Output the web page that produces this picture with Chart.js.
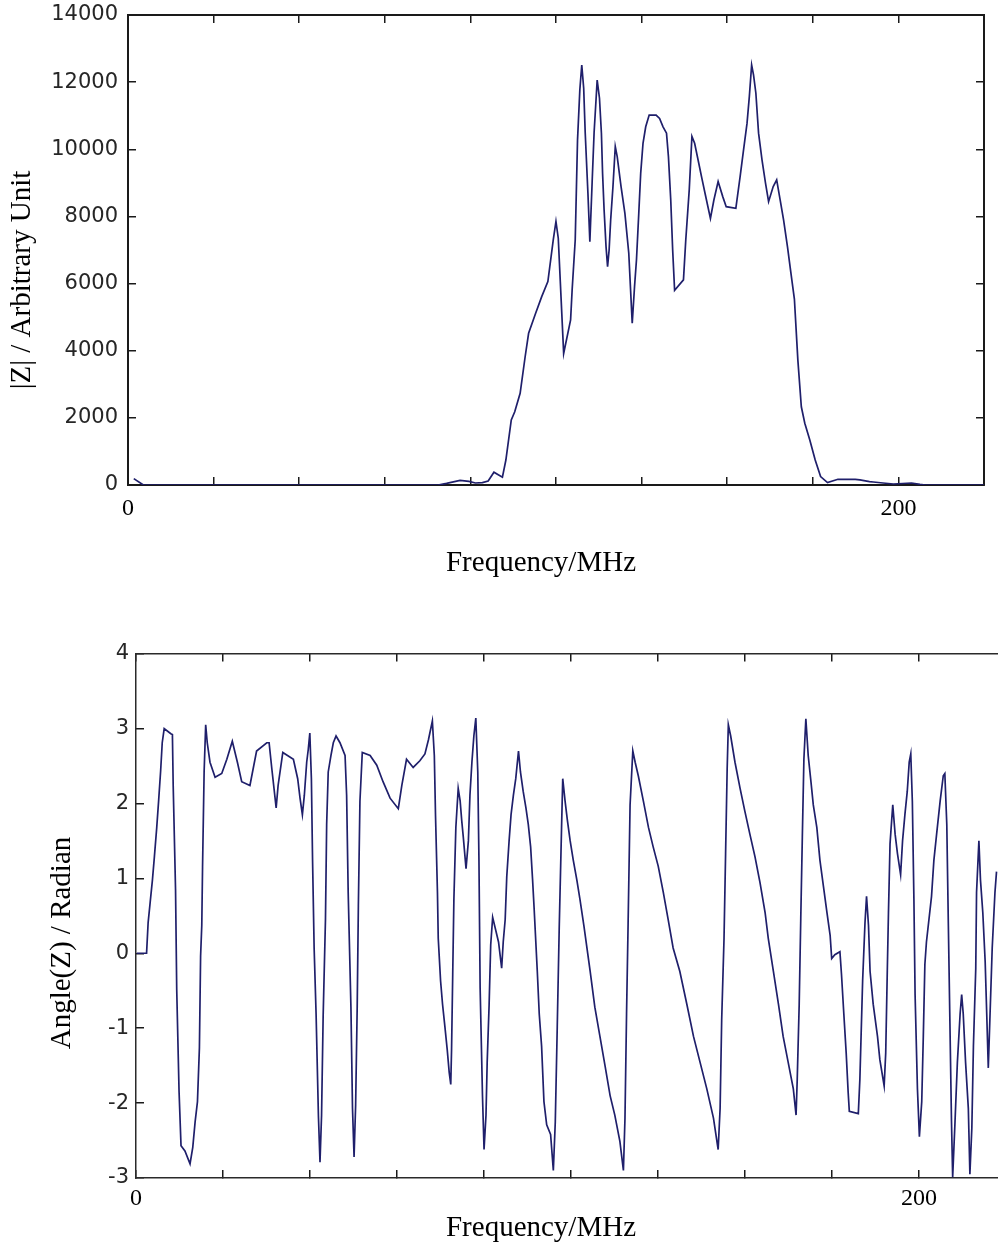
<!DOCTYPE html>
<html><head><meta charset="utf-8">
<script src="https://cdn.jsdelivr.net/npm/chart.js@4.4.1/dist/chart.umd.min.js"></script>
<style>
html,body{margin:0;padding:0;background:#fff;overflow:hidden;width:998px;height:1243px;position:relative}
canvas{position:absolute;left:0}
#c1{top:-40px}
#c2{top:626px}
</style></head><body>
<canvas id="c1" width="1082" height="640"></canvas>
<canvas id="c2" width="1082" height="634"></canvas>
<script>
// ---- data ----
const magFreq = [1.5,4.0,80.5,82.7,86.2,88.5,90.2,92.0,93.5,95.0,97.2,98.1,99.5,100.4,101.8,103.1,104.0,105.8,107.4,109.0,110.4,111.1,111.7,113.1,114.9,115.3,116.1,116.7,117.3,117.8,118.3,118.7,119.4,119.9,120.5,121.0,121.5,121.8,122.4,122.9,123.2,123.6,124.1,124.5,124.9,125.3,125.9,126.5,127.0,128.0,129.0,130.0,130.9,131.5,132.0,132.6,133.1,133.7,134.4,135.3,137.1,138.0,138.9,139.8,140.3,140.9,141.4,141.9,144.2,144.8,145.7,146.4,147.1,148.0,148.9,149.8,151.2,152.1,153.2,154.4,155.3,157.8,158.9,159.8,160.7,161.3,161.9,162.4,163.0,163.7,164.6,165.5,166.3,167.5,168.4,169.3,170.2,171.2,172.1,173.0,173.9,174.8,175.7,177.0,178.4,179.8,181.6,184.3,188.8,190.0,192.5,193.5,196.0,198.7,203.4,205.6,207.0,222.2];
const magValues = [190,0,0,50,140,110,60,70,120,380,230,745,1940,2180,2730,3820,4520,5110,5610,6060,7300,7850,7350,3920,4920,5810,7300,10280,11770,12510,11820,10480,8690,7250,9040,10490,11470,12060,11520,10480,9290,8190,7100,6500,7000,7890,8890,10080,9780,8890,8090,6910,4820,5910,6700,8090,9290,10180,10670,11020,11020,10920,10670,10480,9780,8490,7000,5800,6110,7300,8790,10380,10180,9680,9180,8690,7940,8490,9040,8590,8290,8240,9180,9980,10770,11570,12510,12210,11670,10480,9680,8990,8440,8890,9090,8490,7890,7100,6310,5540,3720,2330,1840,1340,745,250,70,170,170,150,100,90,60,30,60,20,0,0];

const angFreq = [0.2,2.7,3.1,3.6,4.2,4.7,5.3,5.8,6.3,6.7,7.2,8.9,9.3,9.5,10.1,10.4,11.0,11.5,12.5,13.8,14.5,15.1,15.7,16.2,16.5,16.8,17.0,17.4,17.8,18.2,18.9,20.2,21.9,23.2,24.6,25.9,27.0,29.1,30.8,33.4,34.0,34.7,35.8,36.3,37.5,38.7,40.2,41.3,41.9,42.5,43.0,43.6,44.0,44.4,44.8,45.1,45.5,46.0,46.6,47.0,47.4,47.8,48.4,48.7,49.1,49.8,50.4,51.1,52.1,53.4,53.8,54.2,54.9,55.3,55.7,56.1,56.5,56.8,57.2,57.8,59.8,61.5,63.1,64.9,67.0,67.9,69.1,70.8,72.5,73.8,74.7,75.7,76.2,76.5,77.0,77.2,77.8,78.3,78.9,79.5,80.0,80.4,80.6,80.9,81.2,81.7,82.3,82.8,83.2,83.6,84.3,84.9,85.3,85.8,86.3,86.8,87.3,87.6,87.9,88.5,88.9,89.4,89.7,90.2,90.6,91.1,92.6,93.4,93.8,94.3,94.7,95.3,95.8,96.4,97.0,97.7,98.2,98.9,99.6,100.2,100.8,101.3,101.7,102.5,103.0,103.6,104.2,104.9,105.9,106.6,107.1,107.6,108.1,108.7,109.0,109.6,110.2,110.9,111.7,112.6,113.4,114.4,116.0,117.2,118.5,119.8,121.1,122.3,123.6,124.5,124.9,125.3,125.7,126.2,126.9,127.5,128.3,129.6,130.9,132.1,133.4,134.7,135.9,137.2,138.9,140.7,142.4,144.1,145.8,147.5,148.7,149.2,149.6,150.2,150.6,151.0,151.3,151.9,153.0,154.3,155.5,156.8,158.1,159.4,160.7,161.5,162.8,164.1,165.3,166.6,167.9,168.6,168.9,169.4,169.8,170.2,170.6,171.1,171.7,172.4,173.0,173.9,174.7,175.6,176.5,177.3,177.7,178.5,179.8,180.2,180.8,181.4,181.9,182.2,184.5,184.9,185.6,186.2,186.6,187.1,187.5,188.3,189.4,190.0,191.1,191.5,191.9,192.2,192.6,193.3,193.9,194.5,195.3,195.8,196.4,197.0,197.5,197.9,198.3,198.7,199.0,199.6,200.1,200.7,201.1,201.5,201.9,203.2,203.8,204.5,205.4,206.2,206.6,207.1,207.5,207.9,208.3,208.6,209.2,209.8,210.5,210.9,211.3,211.9,212.6,213.0,213.5,213.9,214.5,214.7,215.3,215.7,216.3,216.9,217.3,217.7,218.1,218.7,219.4,219.8];
const angValues = [0,0,0.41,0.67,0.98,1.29,1.68,2.05,2.44,2.81,3.0,2.93,2.92,2.24,0.85,-0.48,-1.85,-2.57,-2.64,-2.81,-2.59,-2.25,-1.98,-1.26,-0.04,0.37,1.15,2.42,3.05,2.81,2.55,2.35,2.40,2.59,2.83,2.55,2.29,2.24,2.70,2.81,2.81,2.46,1.94,2.24,2.68,2.64,2.59,2.33,2.07,1.85,2.11,2.55,2.72,2.94,2.33,1.24,0.07,-0.81,-2.18,-2.79,-2.16,-0.85,0.46,1.72,2.42,2.64,2.81,2.90,2.81,2.64,2.11,0.81,-0.72,-2.07,-2.72,-2.03,-0.72,0.63,2.03,2.68,2.64,2.51,2.29,2.07,1.93,2.24,2.59,2.48,2.57,2.66,2.85,3.10,2.64,1.85,0.81,0.2,-0.37,-0.68,-0.98,-1.29,-1.59,-1.75,-1.29,-0.28,0.72,1.68,2.20,2.03,1.77,1.55,1.13,1.50,2.11,2.55,2.90,3.14,2.42,1.24,-0.46,-1.90,-2.62,-2.16,-1.46,-0.68,0.11,0.48,0.15,-0.20,0.15,0.45,1.02,1.50,1.85,2.11,2.33,2.70,2.42,2.16,1.94,1.72,1.42,0.98,0.59,-0.24,-0.81,-1.24,-1.98,-2.29,-2.42,-2.90,-2.25,-0.98,0.33,1.68,2.33,2.03,1.77,1.50,1.24,0.98,0.72,0.37,-0.24,-0.72,-1.11,-1.50,-1.90,-2.16,-2.51,-2.90,-2.20,-0.81,0.40,1.98,2.70,2.55,2.37,2.03,1.68,1.42,1.16,0.81,0.46,0.07,-0.24,-0.68,-1.11,-1.46,-1.81,-2.20,-2.62,-2.07,-0.89,0.20,1.33,2.46,3.05,2.90,2.55,2.20,1.90,1.59,1.29,0.94,0.54,0.20,-0.24,-0.68,-1.11,-1.46,-1.81,-2.16,-1.68,-0.68,0.46,1.55,2.59,3.13,2.64,2.29,1.98,1.68,1.24,0.89,0.54,0.24,-0.07,-0.02,0.02,-0.28,-0.81,-1.33,-1.85,-2.11,-2.14,-1.68,-0.37,0.40,0.76,0.37,-0.24,-0.68,-1.11,-1.42,-1.77,-1.33,-0.24,0.54,1.46,1.98,1.59,1.33,1.05,1.50,1.85,2.16,2.55,2.66,2.03,0.72,-0.55,-1.81,-2.45,-1.98,-1.11,-0.15,0.15,0.76,1.24,1.59,2.03,2.37,2.40,1.72,0.37,-0.94,-2.25,-2.99,-2.25,-1.46,-0.81,-0.55,-0.81,-1.46,-2.07,-2.95,-2.33,-1.24,-0.20,0.81,1.50,0.98,0.54,-0.11,-0.81,-1.53,-0.89,0.07,0.81,1.09];

// axis ranges / ticks / labels
const xMax = 2000 / 9;
const xTickStep = 200 / 9;
const xLabelValues = [0, 200];
const xLabelTexts = ['0', '200'];
const magRange = [0, 14000];
const magTickStep = 2000;
const angRange = [-3, 4];
const angTickStep = 1;
const magTitle = '|Z| / Arbitrary Unit';
const angTitle = 'Angle(Z) / Radian';
const xTitle = 'Frequency/MHz';

const xTickValues = [];
for (let i = 0; i <= 10; i++) xTickValues.push(i * xTickStep);

function buildXTicks(axis) { axis.ticks = xTickValues.map(v => ({ value: v })); }
function xLabel(v) {
  const i = xLabelValues.findIndex(l => Math.abs(l - v) < 0.01);
  return i >= 0 ? xLabelTexts[i] : '';
}

function makeChart(id, L) {
  const frame = { display: true, color: L.frameColor, width: L.frameWidth };
  const grid = { drawOnChartArea: false, drawTicks: true, tickLength: -8, color: '#1a1a1a', lineWidth: 1.5 };
  const serif = (s) => ({ family: 'Liberation Serif', size: s, weight: 'normal' });
  new Chart(document.getElementById(id), {
    type: 'line',
    data: {
      datasets: [{
        data: L.xs.map((x, i) => ({ x: x, y: L.ys[i] })),
        borderColor: '#1f1f6b',
        borderWidth: 1.7,
        pointRadius: 0,
        tension: 0,
        fill: false
      }]
    },
    options: {
      responsive: false,
      animation: false,
      devicePixelRatio: 1,
      layout: { padding: 0 },
      plugins: {
        legend: { display: false },
        tooltip: { enabled: false },
        title: { display: true, text: L.yTitle, position: 'left', color: '#000', font: serif(29), padding: { top: L.yTitlePad, bottom: 0 } },
        subtitle: { display: true, text: xTitle, position: 'bottom', color: '#000', font: serif(29), padding: { top: 0, bottom: L.xTitlePadBottom } }
      },
      scales: {
        x: {
          type: 'linear', position: 'bottom', min: 0, max: xMax,
          afterBuildTicks: buildXTicks,
          ticks: { autoSkip: false, maxRotation: 0, padding: L.xTickPad, color: '#000', font: serif(24), callback: xLabel },
          grid: grid, border: frame,
          afterFit: s => { s.height = L.xScaleH; }
        },
        x2: {
          type: 'linear', position: 'top', min: 0, max: xMax,
          afterBuildTicks: buildXTicks,
          ticks: { display: false },
          grid: grid, border: frame,
          afterFit: s => { s.height = L.topH; }
        },
        y: {
          type: 'linear', position: 'left', min: L.yRange[0], max: L.yRange[1],
          ticks: { stepSize: L.yStep, padding: L.yTickPad, color: '#262626', font: { family: 'DejaVu Sans', size: 21 }, callback: v => String(v) },
          grid: grid, border: frame,
          afterFit: s => { s.width = L.yScaleW; }
        },
        y2: {
          type: 'linear', position: 'right', min: L.yRange[0], max: L.yRange[1],
          ticks: { display: false, stepSize: L.yStep },
          grid: grid, border: frame,
          afterFit: s => { s.width = L.rightW; }
        }
      }
    }
  });
}

makeChart('c1', {
  xs: magFreq, ys: magValues, yRange: magRange, yStep: magTickStep, yTitle: magTitle,
  frameColor: '#1a1a1a', frameWidth: 2,
  yTitlePad: 4.6, yScaleW: 88.6, yTickPad: 18, rightW: 98,
  topH: 55, xScaleH: 60.6, xTickPad: 17.6, xTitlePadBottom: 19.6
});
makeChart('c2', {
  xs: angFreq, ys: angValues, yRange: angRange, yStep: angTickStep, yTitle: angTitle,
  frameColor: '#2a2a2a', frameWidth: 1.5,
  yTitlePad: 44.6, yScaleW: 56.6, yTickPad: 15, rightW: 76,
  topH: 17, xScaleH: 32.6, xTickPad: 14.6, xTitlePadBottom: 14.6
});
</script>
</body></html>
